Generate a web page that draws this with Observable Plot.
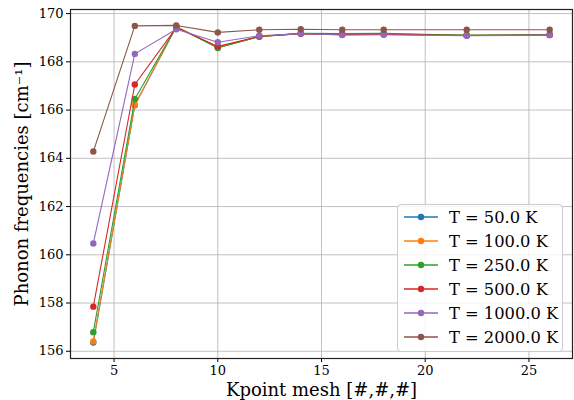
<!DOCTYPE html>
<html>
<head>
<meta charset="utf-8">
<script src="https://cdn.jsdelivr.net/npm/d3@7"></script>
<script src="https://cdn.jsdelivr.net/npm/@observablehq/plot@0.6"></script>
<style>
  html, body { margin: 0; padding: 0; background: white; }
  #wrap { position: relative; width: 574px; height: 400px; font-family: "DejaVu Serif", serif; }
  #legend { position: absolute; left: 397px; top: 204px; width: 166px; height: 148px;
    border: 1px solid #cccccc; border-radius: 4px; background: rgba(255,255,255,0.8); box-sizing: border-box; }
  .row { position: absolute; left: 0; height: 24px; display: flex; align-items: center; }
  .row span { font-size: 16.3px; color: #000; margin-left: 5px; white-space: nowrap; }
</style>
</head>
<body>
<div id="wrap"><div id="chart"></div><div id="legend"></div></div>
<script>
const kpoints = [4, 6, 8, 10, 12, 14, 16, 18, 22, 26];
const seriesNames = ["T = 50.0 K", "T = 100.0 K", "T = 250.0 K", "T = 500.0 K", "T = 1000.0 K", "T = 2000.0 K"];
const colors = ["#1f77b4", "#ff7f0e", "#2ca02c", "#d62728", "#9467bd", "#8c564b"];
const t50   = [156.36, 166.20, 169.45, 168.60, 169.05, 169.17, 169.14, 169.15, 169.10, 169.12];
const t100  = [156.41, 166.22, 169.45, 168.60, 169.05, 169.17, 169.14, 169.15, 169.10, 169.12];
const t250  = [156.79, 166.46, 169.45, 168.57, 169.05, 169.18, 169.17, 169.18, 169.10, 169.13];
const t500  = [157.85, 167.06, 169.42, 168.64, 169.05, 169.17, 169.13, 169.14, 169.09, 169.11];
const t1000 = [160.47, 168.33, 169.35, 168.81, 169.08, 169.17, 169.11, 169.12, 169.08, 169.11];
const t2000 = [164.28, 169.49, 169.51, 169.22, 169.33, 169.35, 169.33, 169.33, 169.33, 169.33];
const xTicks = [5, 10, 15, 20, 25];
const yTicks = [156, 158, 160, 162, 164, 166, 168, 170];
const xLabel = "Kpoint mesh [#,#,#]";
const yLabel = "Phonon frequencies [cm\u207B\u00B9]";

const allSeries = [t50, t100, t250, t500, t1000, t2000];
const data = [];
allSeries.forEach((vals, si) => vals.forEach((v, i) => data.push({k: kpoints[i], f: v, s: seriesNames[si]})));

const marks = [
  Plot.gridX(xTicks, {stroke: "#b0b0b0", strokeOpacity: 1, strokeWidth: 0.8}),
  Plot.gridY(yTicks, {stroke: "#b0b0b0", strokeOpacity: 1, strokeWidth: 0.8}),
  Plot.axisX(xTicks, {tickSize: 4, tickPadding: 3, fontSize: 13, label: null, tickFormat: d => String(d)}),
  Plot.axisY(yTicks, {tickSize: 4, tickPadding: 3, fontSize: 13, label: null, tickFormat: d => String(d)}),
];
seriesNames.forEach((name, si) => {
  const d = data.filter(r => r.s === name);
  marks.push(Plot.line(d, {x: "k", y: "f", stroke: colors[si], strokeWidth: 1.1}));
  marks.push(Plot.dot(d, {x: "k", y: "f", fill: colors[si], r: 3.2, stroke: "none"}));
});
marks.push(Plot.frame({stroke: "#222", strokeWidth: 1.2}));
marks.push(Plot.text([xLabel], {frameAnchor: "bottom", dy: 32, lineAnchor: "middle", textAnchor: "middle", fontSize: 18, text: d => d}));
marks.push(Plot.text([yLabel], {frameAnchor: "left", dx: -48, rotate: -90, lineAnchor: "middle", textAnchor: "middle", fontSize: 18, text: d => d}));

const chart = Plot.plot({
  width: 574, height: 400,
  marginLeft: 70, marginRight: 2, marginTop: 9, marginBottom: 42,
  x: {domain: [2.9, 27.1]},
  y: {domain: [155.7, 170.17]},
  style: {fontFamily: "DejaVu Serif", fontSize: "13px", background: "white", color: "black", overflow: "visible"},
  marks
});
document.getElementById("chart").appendChild(chart);

const legend = document.getElementById("legend");
seriesNames.forEach((name, si) => {
  const row = document.createElement("div");
  row.className = "row";
  row.style.top = (0 + si * 24) + "px";
  row.innerHTML = `<svg width="41" height="24" style="margin-left:5px"><line x1="1" x2="35" y1="12" y2="12" stroke="${colors[si]}" stroke-width="1.3"/><circle cx="18" cy="12" r="3.2" fill="${colors[si]}"/></svg><span>${name}</span>`;
  legend.appendChild(row);
});
</script>
</body>
</html>
